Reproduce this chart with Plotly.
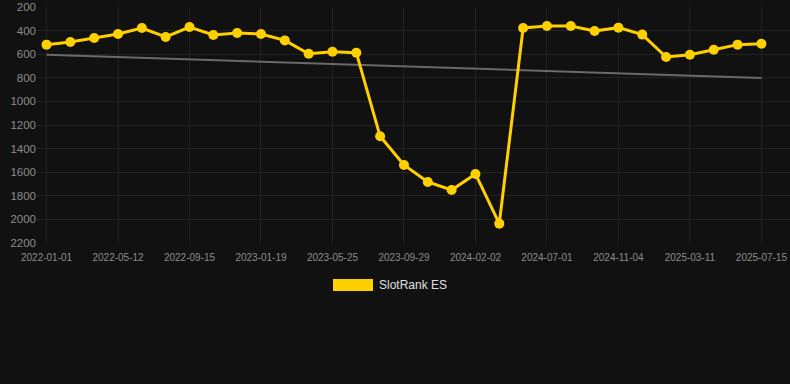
import plotly.graph_objects as go

dates = [
    "2022-01-01", "2022-02-14", "2022-03-29", "2022-05-12", "2022-06-23", "2022-08-04",
    "2022-09-15", "2022-10-27", "2022-12-08", "2023-01-19", "2023-03-02", "2023-04-13",
    "2023-05-25", "2023-07-06", "2023-08-17", "2023-09-29", "2023-11-10", "2023-12-22",
    "2024-02-02", "2024-03-22", "2024-05-11", "2024-07-01", "2024-08-12", "2024-09-23",
    "2024-11-04", "2024-12-16", "2025-01-27", "2025-03-11", "2025-04-22", "2025-06-03",
    "2025-07-15",
]
rank_es = [
    519, 497, 463, 429, 378, 454, 370, 437, 420, 429, 483, 596, 579, 587, 1296,
    1539, 1683, 1751, 1615, 2036, 378, 361, 361, 403, 375, 434, 624, 604, 562, 519, 511,
]
trend_dates = [dates[0], dates[-1]]
trend_vals = [604, 802]
tick_labels = dates[::3]
y_ticks = [200, 400, 600, 800, 1000, 1200, 1400, 1600, 1800, 2000, 2200]
series_name = "SlotRank ES"

GOLD = "#FFD000"
FONT = "Liberation Sans, Arial, sans-serif"

fig = go.Figure()
fig.add_trace(go.Scatter(
    x=trend_dates, y=trend_vals, mode="lines",
    line=dict(color="#6a6a6a", width=2), hoverinfo="skip", showlegend=False,
))
fig.add_trace(go.Scatter(
    x=dates, y=rank_es, mode="lines+markers", name=series_name,
    line=dict(color=GOLD, width=3),
    marker=dict(color=GOLD, size=10),
    showlegend=False,
))

fig.update_layout(
    width=790, height=384,
    margin=dict(l=37, r=0, t=7, b=141),
    paper_bgcolor="#111111", plot_bgcolor="#111111",
    font=dict(family=FONT, color="#8c8c8c"),
    showlegend=False,
    xaxis=dict(
        type="category", categoryorder="array", categoryarray=dates,
        tickmode="array", tickvals=tick_labels, ticktext=tick_labels,
        range=[-0.4, 31.2],
        showgrid=True, gridcolor="#222222", gridwidth=1,
        zeroline=False, showline=False, ticks="",
        ticklabelstandoff=7,
        tickfont=dict(size=10, color="#8c8c8c"),
    ),
    yaxis=dict(
        range=[2200, 200], tickmode="array", tickvals=y_ticks,
        showgrid=True, gridcolor="#222222", gridwidth=1,
        zeroline=False, showline=False, ticks="",
        tickfont=dict(size=11.5, color="#8c8c8c"),
    ),
    shapes=[dict(
        type="rect", xref="paper", yref="paper",
        x0=(333 - 37) / 753, x1=(373 - 37) / 753,
        y0=-(279 - 243) / 236, y1=-(291 - 243) / 236,
        fillcolor=GOLD, line=dict(width=0),
    )],
    annotations=[dict(
        text=series_name, xref="paper", yref="paper",
        x=(377 - 37) / 753, y=-(285 - 243) / 236,
        xanchor="left", yanchor="middle", showarrow=False,
        font=dict(size=12, color="#e0e0e0", family=FONT),
    )],
)

fig.write_html(
    "out.html",
    config={"displayModeBar": False},
    post_script="document.body.style.margin='0';document.body.style.background='#111111';",
)
